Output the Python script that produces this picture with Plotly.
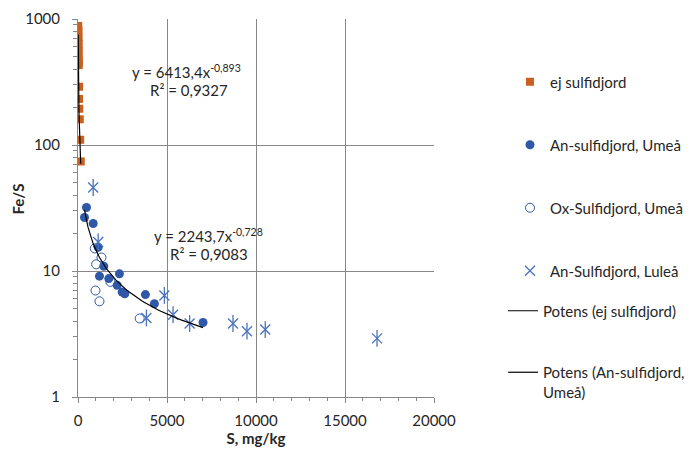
import numpy as np
import plotly.graph_objects as go

# ---------------- data ----------------
ej_S = [11, 20, 14, 25, 18, 30, 22, 35, 28, 40, 45, 38, 60, 55, 70, 100, 120, 155]
ej_FeS = [880, 820, 780, 720, 680, 640, 600, 560, 520, 480, 450, 430, 290, 232, 194, 160, 110, 74]

anU_S = [477, 365, 853, 1133, 1448, 1206, 1730, 2328, 2200, 2480, 2627, 3787, 4292, 7024]
anU_FeS = [31.9, 26.6, 23.8, 15.4, 10.9, 9.1, 8.7, 9.5, 7.7, 6.8, 6.6, 6.5, 5.5, 3.9]

oxU_S = [943, 1318, 1021, 1823, 982, 1206, 3467]
oxU_FeS = [15.1, 12.8, 11.3, 8.2, 7.0, 5.75, 4.2]

anL_S = [853, 1133, 4853, 3843, 5340, 6272, 8707, 9492, 10519, 16800]
anL_FeS = [46, 17.0, 6.4, 4.24, 4.5, 3.83, 3.83, 3.33, 3.43, 2.92]

fit_ej = (6413.4, -0.893)
fit_anU = (2243.7, -0.728)

x_ticks = [0, 5000, 10000, 15000, 20000]
y_ticks = [1, 10, 100, 1000]

# ---------------- layout geometry ----------------
W, H = 699, 453
L, R, T, B = 77.5, 434, 19, 397

ORANGE = "#C9611E"
BLUE = "#2F58A6"
BLUE2 = "#4A72BE"
TXT = "#262626"
GRID = "#878787"
FONT = "Lato"
FS = 15


def px2paper(x, y):
    return (x - L) / (R - L), (B - y) / (B - T)


fig = go.Figure()

fig.add_trace(go.Scatter(x=ej_S, y=ej_FeS, mode="markers", name="ej sulfidjord",
                         marker=dict(symbol="square", size=8, color=ORANGE),
                         legend="legend"))
fig.add_trace(go.Scatter(x=anU_S, y=anU_FeS, mode="markers", name="An-sulfidjord, Umeå",
                         marker=dict(symbol="circle", size=9, color=BLUE),
                         legend="legend2"))
fig.add_trace(go.Scatter(x=oxU_S, y=oxU_FeS, mode="markers", name="Ox-Sulfidjord, Umeå",
                         marker=dict(symbol="circle-open", size=9, color=BLUE,
                                     line=dict(width=1, color=BLUE)),
                         legend="legend3"))
fig.add_trace(go.Scatter(x=anL_S, y=anL_FeS, mode="markers", name="An-Sulfidjord, Luleå",
                         marker=dict(symbol="x-thin-open", size=10, color=BLUE2,
                                     line=dict(width=1.3, color=BLUE2)),
                         legend="legend4"))
fig.add_trace(go.Scatter(x=anL_S, y=anL_FeS, mode="markers", showlegend=False,
                         marker=dict(symbol="line-ns-open", size=12, color=BLUE2,
                                     line=dict(width=1.3, color=BLUE2)),
                         hoverinfo="skip"))

# power trendlines from the displayed equations
xs1 = np.geomspace(min(ej_S), max(ej_S), 80)
fig.add_trace(go.Scatter(x=xs1, y=fit_ej[0] * xs1 ** fit_ej[1], mode="lines",
                         name="Potens (ej sulfidjord)", line=dict(color="black", width=1.2),
                         legend="legend5"))
xs2 = np.geomspace(min(anU_S), max(anU_S), 80)
fig.add_trace(go.Scatter(x=xs2, y=fit_anU[0] * xs2 ** fit_anU[1], mode="lines",
                         name="Potens (An-sulfidjord,<br>Umeå)", line=dict(color="black", width=1.2),
                         legend="legend6"))

lfont = dict(family=FONT, size=FS, color=TXT)


def leg(xpx, ypx, valign="middle"):
    return dict(x=xpx / W, y=1 - ypx / H, xref="container", yref="container",
                xanchor="left", yanchor="middle", font=lfont, bgcolor="rgba(0,0,0,0)",
                borderwidth=0, itemwidth=30, valign=valign, tracegroupgap=0)


annotations = []
for (xp, yp, txt) in [(130, 71, "y = 6413,4x<sup>-0,893</sup>"),
                      (148, 90, "R² = 0,9327"),
                      (152, 235, "y = 2243,7x<sup>-0,728</sup>"),
                      (168, 254, "R² = 0,9083")]:
    ax, ay = px2paper(xp, yp)
    annotations.append(dict(x=ax, y=ay, xref="paper", yref="paper", text=txt,
                            showarrow=False, xanchor="left", yanchor="middle",
                            font=dict(family=FONT, size=FS, color=TXT)))

# y-axis title
tx, ty = px2paper(17, 199)
annotations.append(dict(x=tx, y=ty, xref="paper", yref="paper",
                        text="<b>Fe/S</b>", textangle=-90, showarrow=False,
                        xanchor="center", yanchor="middle",
                        font=dict(family=FONT, size=FS, color=TXT)))

fig.update_layout(
    width=W, height=H,
    margin=dict(l=L, r=W - R, t=T, b=H - B, pad=0, autoexpand=False),
    paper_bgcolor="white", plot_bgcolor="white",
    font=dict(family=FONT, size=FS, color=TXT),
    annotations=annotations,
    legend=leg(510, 82),
    legend2=leg(510, 145),
    legend3=leg(510, 208),
    legend4=leg(510, 271),
    legend5=leg(503, 311),
    legend6=leg(503, 382, valign="top"),
    xaxis=dict(range=[0, 20000], tickvals=x_ticks, ticktext=[str(v) for v in x_ticks],
               automargin=False,
               showgrid=True, gridcolor=GRID, gridwidth=1, zeroline=False,
               showline=True, linecolor=GRID, linewidth=1,
               ticks="outside", ticklen=5, tickcolor=GRID, ticklabelstandoff=5,
               minor=dict(tickvals=list(range(1000, 20000, 1000)), ticks="outside",
                          ticklen=3, tickcolor=GRID, showgrid=False),
               title=dict(text="<b>S, mg/kg</b>", font=dict(family=FONT, size=FS, color=TXT),
                          standoff=4),
               tickfont=dict(family=FONT, size=FS, color=TXT)),
    yaxis=dict(type="log", range=[0, 3], tickvals=y_ticks, ticktext=[str(v) for v in y_ticks],
               automargin=False,
               showgrid=True, gridcolor=GRID, gridwidth=1, zeroline=False,
               showline=True, linecolor=GRID, linewidth=1,
               ticks="outside", ticklen=5, tickcolor=GRID, ticklabelstandoff=9,
               minor=dict(tickvals=[m * d for d in (1, 10, 100) for m in range(2, 10)],
                          ticks="outside", ticklen=4, tickcolor=GRID, showgrid=False),
               tickfont=dict(family=FONT, size=FS, color=TXT)),
)

fig.write_html("out.html", config={"displayModeBar": False},
               post_script="document.body.style.margin='0';")
